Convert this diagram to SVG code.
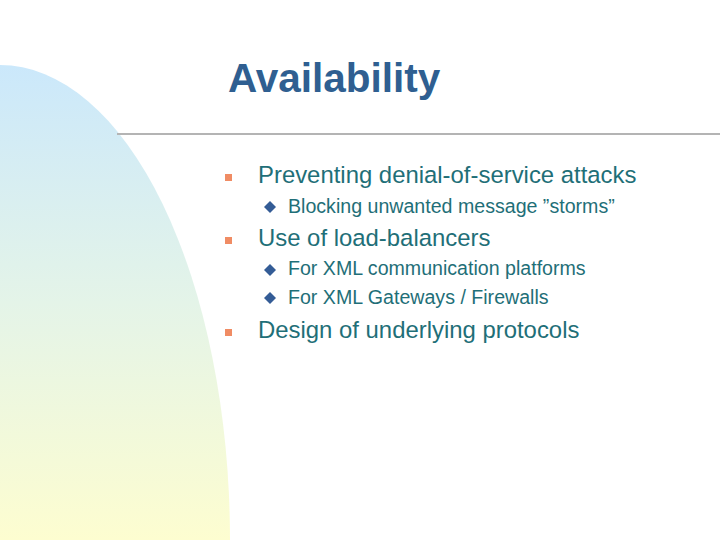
<svg xmlns="http://www.w3.org/2000/svg" width="720" height="540" viewBox="0 0 720 540">
<defs>
<linearGradient id="bg" x1="0" y1="0" x2="0" y2="1">
<stop offset="0" stop-color="#cbe8fb"/>
<stop offset="0.5" stop-color="#e4f4e8"/>
<stop offset="1" stop-color="#fdfdd0"/>
</linearGradient>
<style>
.t{font-family:"Liberation Sans",Arial,sans-serif;fill:#1f6f78}
.l1{font-size:23.9px}
.l2{font-size:19.6px}
.sq{fill:#f08c64}
.dm{fill:#345c96}
</style>
</defs>
<rect width="720" height="540" fill="#fff"/>
<path d="M0,65 A230,475 0 0 1 230,540 L0,540 Z" fill="url(#bg)"/>
<line x1="117" y1="134" x2="720" y2="134" stroke="#b4b4b4" stroke-width="2"/>
<text x="228" y="92" font-family="Liberation Sans,Arial,sans-serif" font-weight="bold" font-size="40.5" fill="#2f5f91">Availability</text>
<g id="b1"><rect class="sq" x="225" y="174" width="7" height="7"/><text class="t l1" x="258" y="183">Preventing denial-of-service attacks</text></g>
<g id="b1a"><path class="dm" d="M270,201 L276,207 L270,213 L264,207Z"/><text class="t l2" x="288" y="213">Blocking unwanted message ”storms”</text></g>
<g id="b2"><rect class="sq" x="225" y="237" width="7" height="7"/><text class="t l1" x="258" y="246">Use of load-balancers</text></g>
<g id="b2a"><path class="dm" d="M270,264 L276,270 L270,276 L264,270Z"/><text class="t l2" x="288" y="275">For XML communication platforms</text></g>
<g id="b2b"><path class="dm" d="M270,292 L276,298 L270,304 L264,298Z"/><text class="t l2" x="288" y="304">For XML Gateways / Firewalls</text></g>
<g id="b3"><rect class="sq" x="225" y="329" width="7" height="7"/><text class="t l1" x="258" y="338">Design of underlying protocols</text></g>
</svg>
